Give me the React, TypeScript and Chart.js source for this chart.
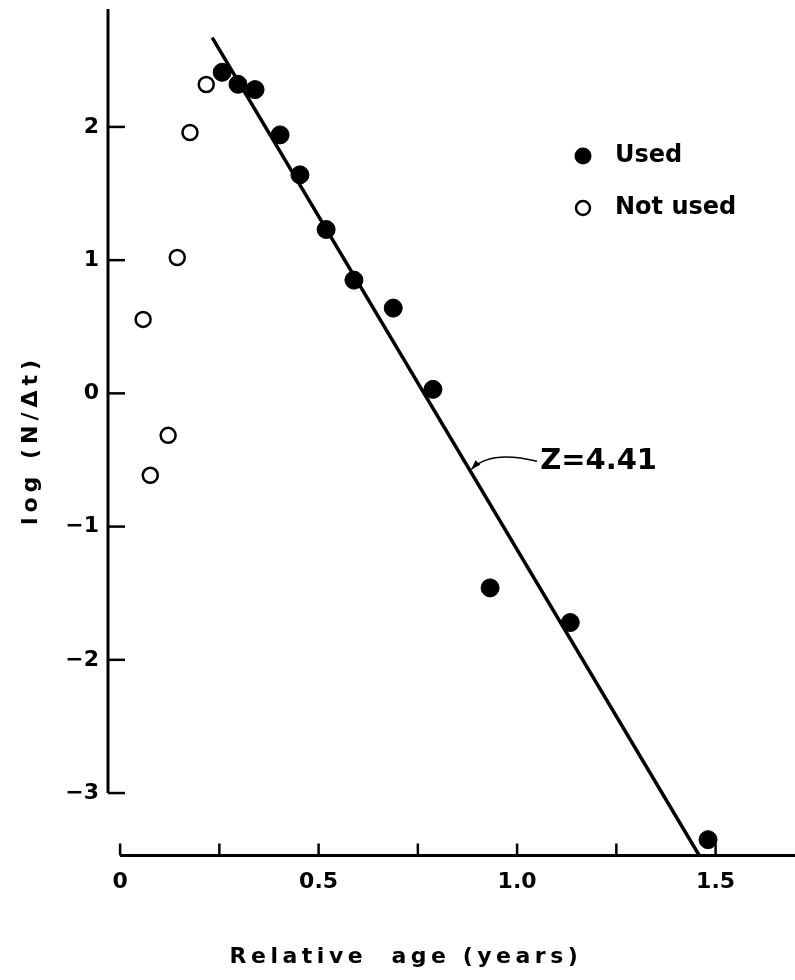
import React, { useEffect, useRef } from "react";
import { Chart, registerables } from "chart.js";

Chart.register(...registerables);

// ---- data ----
const usedAge = [0.257, 0.297, 0.34, 0.403, 0.453, 0.519, 0.589, 0.688, 0.788, 0.932, 1.134, 1.481];
const usedLog = [2.41, 2.32, 2.28, 1.94, 1.64, 1.23, 0.85, 0.64, 0.03, -1.46, -1.72, -3.35];
const notUsedAge = [0.058, 0.076, 0.121, 0.144, 0.176, 0.217];
const notUsedLog = [0.555, -0.615, -0.315, 1.02, 1.958, 2.318];
const fitAge = [0.232, 1.461];
const fitLog = [2.67, -3.48];
const xTickValues = [0, 0.25, 0.5, 0.75, 1, 1.25, 1.5];
const xTickLabels = ["0", "", "0.5", "", "1.0", "", "1.5"];
const yTickValues = [-3, -2, -1, 0, 1, 2];
const yTickLabels = ["\u22123", "\u22122", "\u22121", "0", "1", "2"];
const seriesLabels = ["Used", "Not used"];
const fitLabel = "Z=4.41";
const xTitle = "Relative  age (years)";
const yTitle = "log (N/\u0394t)";

// annotation anchor (data units)
const leaderAge = [0.885, 0.917, 0.97, 1.05];
const leaderLog = [-0.57, -0.47, -0.45, -0.51];
const fitLabelAge = 1.058;
const fitLabelLog = -0.51;

const FONT = "'DejaVu Sans', sans-serif";
const AREA = { left: 107, top: 9, bottom: 857 };

const handDrawnPlugin = {
  id: "handDrawn",
  beforeDraw(chart: any) {
    const { ctx } = chart;
    ctx.save();
    ctx.fillStyle = "#ffffff";
    ctx.fillRect(0, 0, chart.width, chart.height);
    ctx.restore();
  },
  afterDraw(chart: any) {
    const { ctx, chartArea } = chart;
    const xs = chart.scales.x;
    const ys = chart.scales.y;
    ctx.save();
    ctx.strokeStyle = "#000";
    ctx.fillStyle = "#000";
    ctx.lineCap = "butt";

    // y axis line (ends at lowest tick)
    const yx = chartArea.left + 1;
    ctx.lineWidth = 3;
    ctx.beginPath();
    ctx.moveTo(yx, chartArea.top);
    ctx.lineTo(yx, ys.getPixelForValue(yTickValues[0]));
    ctx.stroke();
    // x axis line (starts at 0)
    const xy = chartArea.bottom - 1.5;
    ctx.beginPath();
    ctx.moveTo(xs.getPixelForValue(xTickValues[0]), xy);
    ctx.lineTo(chartArea.right, xy);
    ctx.stroke();

    // tick marks, pointing inward
    ctx.lineWidth = 2.5;
    ys.ticks.forEach((t: any) => {
      const py = ys.getPixelForValue(t.value);
      ctx.beginPath();
      ctx.moveTo(yx, py);
      ctx.lineTo(yx + 17, py);
      ctx.stroke();
    });
    xs.ticks.forEach((t: any) => {
      const px = xs.getPixelForValue(t.value);
      ctx.beginPath();
      ctx.moveTo(px, xy);
      ctx.lineTo(px, xy - 12);
      ctx.stroke();
    });

    // axis titles
    ctx.font = `bold 22px ${FONT}`;
    (ctx as any).letterSpacing = "4.5px";
    ctx.textAlign = "center";
    ctx.textBaseline = "alphabetic";
    ctx.fillText(xTitle, xs.getPixelForValue(0.72), 963);

    ctx.save();
    (ctx as any).letterSpacing = "5px";
    ctx.translate(37, 440);
    ctx.rotate(-Math.PI / 2);
    ctx.fillText(yTitle, 0, 0);
    ctx.restore();
    (ctx as any).letterSpacing = "0px";

    // legend
    const ds = chart.data.datasets;
    const legendX = 583;
    const legendY = [156, 208];
    [0, 1].forEach((i) => {
      const d = ds[i];
      ctx.beginPath();
      ctx.arc(legendX, legendY[i], i === 0 ? 8.5 : 7, 0, Math.PI * 2);
      if (i === 0) {
        ctx.fillStyle = d.backgroundColor;
        ctx.fill();
      } else {
        ctx.lineWidth = d.borderWidth;
        ctx.strokeStyle = d.borderColor;
        ctx.fillStyle = "#fff";
        ctx.fill();
        ctx.stroke();
      }
      ctx.fillStyle = "#000";
      ctx.font = `bold 24px ${FONT}`;
      ctx.textAlign = "left";
      ctx.textBaseline = "middle";
      ctx.fillText(d.label, 615, legendY[i]);
    });

    // leader curve + label
    const p = leaderAge.map((a, i) => [xs.getPixelForValue(a), ys.getPixelForValue(leaderLog[i])]);
    ctx.lineWidth = 1.6;
    ctx.strokeStyle = "#000";
    ctx.beginPath();
    ctx.moveTo(p[0][0], p[0][1]);
    ctx.bezierCurveTo(p[1][0], p[1][1], p[2][0], p[2][1], p[3][0], p[3][1]);
    ctx.stroke();
    // arrowhead at the fitted line
    const ang = Math.atan2(p[0][1] - p[1][1], p[0][0] - p[1][0]);
    ctx.beginPath();
    ctx.moveTo(p[0][0], p[0][1]);
    ctx.lineTo(p[0][0] - 10 * Math.cos(ang - 0.35), p[0][1] - 10 * Math.sin(ang - 0.35));
    ctx.lineTo(p[0][0] - 10 * Math.cos(ang + 0.35), p[0][1] - 10 * Math.sin(ang + 0.35));
    ctx.closePath();
    ctx.fill();

    ctx.font = `bold 29px ${FONT}`;
    ctx.textAlign = "left";
    ctx.textBaseline = "middle";
    ctx.fillText(fitLabel, xs.getPixelForValue(fitLabelAge), ys.getPixelForValue(fitLabelLog));

    ctx.restore();
  },
};

const zeroPadding = (s: any) => {
  s.paddingTop = 0;
  s.paddingBottom = 0;
  s.paddingLeft = 0;
  s.paddingRight = 0;
};

export default function App() {
  const canvasRef = useRef<HTMLCanvasElement | null>(null);

  useEffect(() => {
    const canvas = canvasRef.current;
    if (!canvas) return;
    const chart = new Chart(canvas, {
      type: "scatter",
      data: {
        datasets: [
          {
            label: seriesLabels[0],
            data: usedAge.map((a, i) => ({ x: a, y: usedLog[i] })),
            backgroundColor: "#000",
            borderColor: "#000",
            borderWidth: 1,
            pointRadius: 9,
            pointHoverRadius: 9,
          },
          {
            label: seriesLabels[1],
            data: notUsedAge.map((a, i) => ({ x: a, y: notUsedLog[i] })),
            backgroundColor: "#fff",
            borderColor: "#000",
            borderWidth: 2.5,
            pointRadius: 7.5,
            pointHoverRadius: 7.5,
          },
          {
            type: "line" as any,
            label: "fit",
            data: fitAge.map((a, i) => ({ x: a, y: fitLog[i] })),
            borderColor: "#000",
            backgroundColor: "#000",
            borderWidth: 3.5,
            pointRadius: 0,
            showLine: true,
            fill: false,
          } as any,
        ],
      },
      options: {
        responsive: false,
        animation: false,
        events: [],
        layout: { autoPadding: false, padding: { top: AREA.top, left: 0, right: 0, bottom: 0 } },
        plugins: {
          legend: { display: false },
          tooltip: { enabled: false },
        },
        scales: {
          x: {
            type: "linear",
            min: -0.033,
            max: 1.7,
            grid: { display: false, drawTicks: false, tickLength: 0 },
            border: { display: false },
            afterBuildTicks: (s: any) => {
              s.ticks = xTickValues.map((v) => ({ value: v }));
            },
            afterFit: (s: any) => {
              s.height = 980 - AREA.bottom;
              zeroPadding(s);
            },
            ticks: {
              autoSkip: false,
              maxRotation: 0,
              padding: 12,
              color: "#000",
              font: { family: FONT, size: 22, weight: "bold" },
              callback: (_v: any, i: number) => xTickLabels[i],
            },
          },
          y: {
            type: "linear",
            min: -3.48,
            max: 2.885,
            grid: { display: false, drawTicks: false, tickLength: 0 },
            border: { display: false },
            afterBuildTicks: (s: any) => {
              s.ticks = yTickValues.map((v) => ({ value: v }));
            },
            afterFit: (s: any) => {
              s.width = AREA.left;
              zeroPadding(s);
            },
            ticks: {
              autoSkip: false,
              padding: 8,
              color: "#000",
              font: { family: FONT, size: 22, weight: "bold" },
              callback: (_v: any, i: number) => yTickLabels[i],
            },
          },
        },
      },
      plugins: [handDrawnPlugin],
    });
    return () => chart.destroy();
  }, []);

  return (
    <canvas
      ref={canvasRef}
      width={795}
      height={980}
      style={{ position: "absolute", left: 0, top: 0, width: 795, height: 980, display: "block" }}
    />
  );
}
